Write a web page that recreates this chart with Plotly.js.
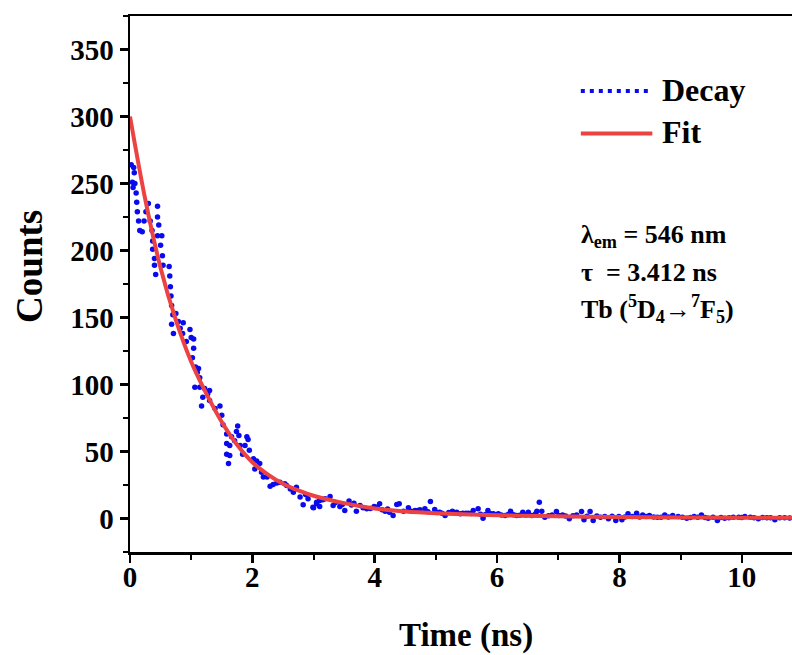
<!DOCTYPE html>
<html>
<head>
<meta charset="utf-8">
<script src="https://cdn.plot.ly/plotly-3.0.1.min.js"></script>
<style>html,body{margin:0;padding:0;background:#fff;}#chart{width:792px;height:655px;}</style>
</head>
<body>
<div id="chart"></div>
<script>
// ---- Data ----
const decayTime = [
  0.02,0.04,0.05,0.06,0.07,0.08,0.10,0.11,0.12,0.14,0.16,0.20,0.23,0.26,0.30,0.33,0.36,0.37,0.37,0.40,
  0.40,0.42,0.45,0.45,0.47,0.45,0.52,0.50,0.53,0.54,0.64,0.65,0.66,0.67,0.68,0.70,0.75,0.68,0.79,0.71,
  0.86,0.82,0.98,0.87,0.92,1.00,1.04,1.04,1.02,1.07,1.12,1.10,1.14,1.06,1.14,1.22,1.30,1.27,1.19,1.17,
  1.30,1.39,1.47,1.50,1.52,1.58,1.66,1.71,1.74,1.76,1.78,1.58,1.63,1.80,1.88,1.91,1.93,1.95,1.58,1.63,
  1.61,1.84,2.02,2.07,2.04,2.12,2.15,2.18,2.29,2.34,2.40,2.53,2.56,2.67,2.72,2.78,2.83,2.91,2.99,3.05,
  3.10,3.00,3.05,3.10,3.19,3.27,3.32,3.43,3.51,3.58,3.66,3.70,3.76,3.87,3.99,4.08,4.17,4.24,4.30,4.36,
  4.40,4.47,4.55,4.66,4.74,4.82,4.91,4.98,5.06,5.15,5.27,5.34,5.44,5.53,5.61,5.69,5.77,5.85,5.94,6.02,
  6.13,6.22,6.32,6.42,6.51,6.63,6.65,6.69,6.73,6.78,6.90,6.97,7.07,7.18,7.30,7.38,7.42,7.52,7.57,7.69,
  7.82,7.94,8.04,8.14,8.28,8.38,8.49,8.62,8.74,8.87,8.96,9.10,9.22,9.34,9.45,9.60,9.72,9.86,9.95,10.05,
  10.14,10.27,10.41,10.54,10.70,
  2.24,2.45,2.62,2.87,3.15,3.36,3.47,3.62,3.81,3.93,4.04,4.12,4.21,4.60,4.70,4.87,5.02,5.10,5.21,5.40,
  5.49,5.58,5.73,5.81,5.90,6.07,6.18,6.27,6.37,6.47,6.57,6.84,7.01,7.12,7.24,7.47,7.63,7.76,7.88,7.99,
  8.09,8.21,8.33,8.44,8.56,8.68,8.80,9.03,9.16,9.28,9.40,9.53,9.66,9.79,10.00,10.20,10.34,10.47,10.62,10.78
];
const decayCounts = [
  264,251,247,262,258,250,243,236,229,222,215,214,222,229,235,222,215,207,201,194,
  189,182,233,225,219,211,211,204,196,189,188,181,173,166,159,152,153,145,147,138,
  138,142,141,146,132,135,134,127,120,113,112,109,105,98,98,97,95.5,93,90.5,84,
  88,82,84,77,70,63,61,58,65,69,62,56,54.5,54.5,54.5,61,59,51,48,47,
  41,48,44.5,43,37,41,34.6,31,24,25.4,26.4,26,24.6,19.6,23.4,16,10.2,14.7,8.4,11,
  13.4,8,12.2,9,14.7,16.4,9.7,9,6,13,11.4,5.5,9.7,7.2,9,11,5.5,4.7,2.2,10.4,
  11,5.5,8,6,6.5,7.2,12.7,6.7,4.7,2.2,5.5,4.7,4,4,6,7.2,0.2,6,3.5,3.5,
  2.2,5.5,2.2,4.7,4.7,3.5,5.5,12.2,5.5,1,2.7,5.2,2.7,-0.2,2.7,5.2,-1,5.2,-1.5,1,
  -0.2,-1.5,-1,3.5,4,2.7,2.2,1,2.7,2.2,1.5,0.2,1.5,2.7,0.2,-1.5,0.2,1,1,1.5,
  1,-0.2,0.5,-1,0.5,
  31,27,22,18,14,12,10.5,10,8,7.5,8.5,6.5,7,5.5,6,5,4.5,4,4.5,3.5,
  4,3.8,3.2,3,3.6,2.6,3,2.8,2.4,2.6,2.2,2,2.2,1.8,2,1.6,1.8,1.5,1.6,1.4,
  1.2,1.5,1.1,1.4,1.2,0.9,1.2,1,0.8,1,0.7,0.9,0.8,0.6,0.8,0.5,0.7,0.6,0.5,0.4
];
const fitTime = [0,0.25,0.5,0.75,1.0,1.25,1.5,1.75,2.0,2.25,2.5,2.75,3.0,3.5,4.0,4.5,5.0,6.0,7.0,8.0,9.0,10.0,10.9];
const fitCounts = [300,238,187,148,117,93,72,55,42,33,26,21,17,11.5,7.5,5.2,3.9,2.4,1.6,1.1,0.8,0.6,0.5];
const xTicks = [0,2,4,6,8,10];
const yTicks = [0,50,100,150,200,250,300,350];
const seriesNames = ['Decay','Fit'];
const xTitle = 'Time (ns)';
const yTitle = 'Counts';
const infoLines = ['λ<sub>em</sub> = 546 nm','τ  = 3.412 ns','Tb (<sup>5</sup>D<sub>4</sub>→<sup>7</sup>F<sub>5</sub>)'];

const FONT = 'Liberation Serif, Times New Roman, serif';
const BLUE = '#0a0aee';
const RED = '#ec4242';

const traces = [
  {x: decayTime, y: decayCounts, type: 'scatter', mode: 'markers', name: seriesNames[0],
   marker: {color: BLUE, size: 5.5}, showlegend: false},
  {x: fitTime, y: fitCounts, type: 'scatter', mode: 'lines', name: seriesNames[1],
   line: {color: RED, width: 4, shape: 'spline', smoothing: 1}, showlegend: false}
];

const axisCommon = {
  showgrid: false, zeroline: false, showline: true, linecolor: '#000', linewidth: 2.5,
  ticks: 'outside', ticklen: 8, tickwidth: 2.5, tickcolor: '#000',
  tickfont: {family: FONT, size: 29, color: '#000', weight: 'bold'}
};

const txt = (size) => ({family: FONT, size: size, color: '#000', weight: 'bold'});

const layout = {
  width: 792, height: 655,
  margin: {l: 130, r: 0, t: 16, b: 103, pad: 0},
  paper_bgcolor: '#fff', plot_bgcolor: '#fff',
  showlegend: false,
  xaxis: Object.assign({}, axisCommon, {
    range: [0, 10.82], tickmode: 'array', tickvals: xTicks, ticktext: xTicks.map(String),
    mirror: true, ticklabelstandoff: -10,
    minor: {dtick: 1, tick0: 0, ticks: 'outside', ticklen: 5, tickwidth: 2, tickcolor: '#000'}
  }),
  yaxis: Object.assign({}, axisCommon, {
    range: [-25, 375], tickmode: 'array', tickvals: yTicks, ticktext: yTicks.map(String),
    minor: {dtick: 25, tick0: 0, ticks: 'outside', ticklen: 5, tickwidth: 2, tickcolor: '#000'}
  }),
  shapes: [
    {type: 'line', xref: 'paper', yref: 'paper', x0: 0.681, x1: 0.789, y0: 0.860, y1: 0.860,
     line: {color: BLUE, width: 4, dash: '4px,5px'}},
    {type: 'line', xref: 'paper', yref: 'paper', x0: 0.681, x1: 0.789, y0: 0.781, y1: 0.781,
     line: {color: RED, width: 4}}
  ],
  annotations: [
    {xref: 'paper', yref: 'paper', x: 0.5076, y: -0.155, xanchor: 'center', yanchor: 'middle', showarrow: false,
     text: xTitle, font: txt(33)},
    {xref: 'paper', yref: 'paper', x: -0.151, y: 0.532, xanchor: 'center', yanchor: 'middle', showarrow: false,
     textangle: -90, text: yTitle, font: txt(37)},
    {xref: 'paper', yref: 'paper', x: 0.800, y: 0.862, xanchor: 'left', yanchor: 'middle', showarrow: false,
     text: seriesNames[0], font: txt(32)},
    {xref: 'paper', yref: 'paper', x: 0.800, y: 0.783, xanchor: 'left', yanchor: 'middle', showarrow: false,
     text: seriesNames[1], font: txt(32)},
    {xref: 'paper', yref: 'paper', x: 0.679, y: 0.590, xanchor: 'left', yanchor: 'middle', showarrow: false,
     text: infoLines[0], font: txt(26)},
    {xref: 'paper', yref: 'paper', x: 0.679, y: 0.521, xanchor: 'left', yanchor: 'middle', showarrow: false,
     text: infoLines[1], font: txt(26)},
    {xref: 'paper', yref: 'paper', x: 0.679, y: 0.454, xanchor: 'left', yanchor: 'middle', showarrow: false,
     text: infoLines[2], font: txt(26)}
  ]
};

Plotly.newPlot('chart', traces, layout, {staticPlot: true, displayModeBar: false});
</script>
</body>
</html>
